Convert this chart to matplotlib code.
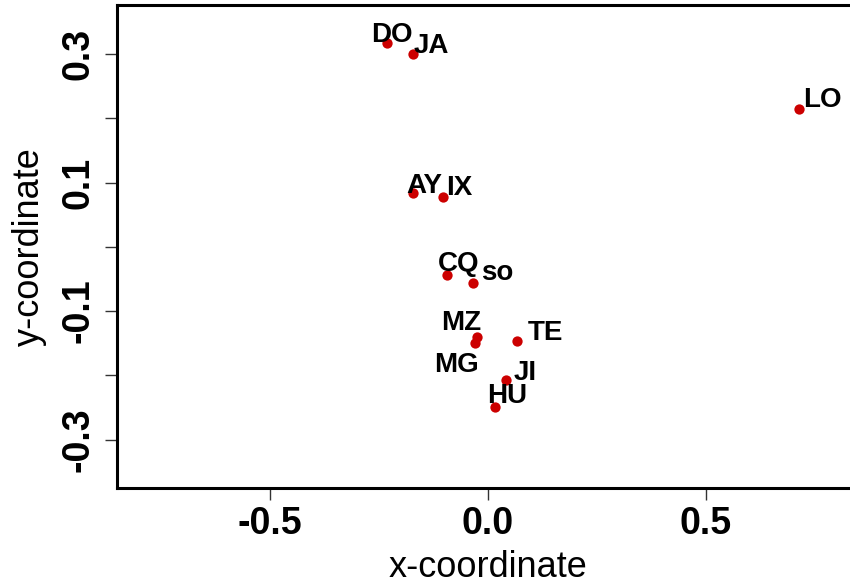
import matplotlib
matplotlib.use("Agg")
import matplotlib.pyplot as plt
from matplotlib.ticker import FixedLocator, FixedFormatter

# ---- data ----
labels = ["DO", "JA", "LO", "AY", "IX", "CQ", "so", "MZ", "MG", "TE", "JI", "HU"]
x_vals = [-0.232, -0.172, 0.715, -0.172, -0.103, -0.094, -0.034, -0.025, -0.030, 0.066, 0.041, 0.016]
y_vals = [0.317, 0.300, 0.2145, 0.084, 0.0776, -0.044, -0.056, -0.140, -0.149, -0.146, -0.207, -0.249]
x_ticks = [-0.5, 0.0, 0.5]
x_tick_labels = ["-0.5", "0.0", "0.5"]
y_ticks = [-0.3, -0.2, -0.1, 0.0, 0.1, 0.2, 0.3]
y_tick_labels = ["-0.3", "", "-0.1", "", "0.1", "", "0.3"]

# label offsets (pixels) relative to points: (dx, dy up)
label_offsets = [(5, 1), (18, 1), (23, 2), (11, 0), (16, 2), (12, 4), (24, 3),
                 (-16, 7), (-18, -29), (29, 1), (19, 0), (12, 4)]

plt.rcParams['font.family'] = ['Liberation Sans', 'DejaVu Sans']

fig = plt.figure(figsize=(8.5, 5.87), dpi=100)
ax = fig.add_axes([117/850, 1 - 488/587, (859 - 117)/850, 483/587])

ax.scatter(x_vals, y_vals, s=55, color="#CC0000", zorder=3, linewidths=0)
for lab, xv, yv, off in zip(labels, x_vals, y_vals, label_offsets):
    ax.annotate(lab, (xv, yv), xytext=off, textcoords="offset pixels",
                ha="center", va="baseline", fontsize=20, fontweight="bold",
                color="black", zorder=4)

ax.set_xlim(-0.852, 0.852)
ax.set_ylim(-0.375, 0.376)

ax.xaxis.set_major_locator(FixedLocator(x_ticks))
ax.xaxis.set_major_formatter(FixedFormatter(x_tick_labels))
ax.yaxis.set_major_locator(FixedLocator(y_ticks))
ax.yaxis.set_major_formatter(FixedFormatter(y_tick_labels))

ax.tick_params(axis="both", direction="out", length=8.6, width=1.0, color="#333333")
ax.tick_params(axis="x", labelsize=27, pad=4)
ax.tick_params(axis="y", labelsize=27, pad=6)
for t in ax.get_xticklabels():
    t.set_fontweight("bold")
for t in ax.get_yticklabels():
    t.set_fontweight("bold")
    t.set_rotation(90)
    t.set_va("center")

for sp in ax.spines.values():
    sp.set_linewidth(2.2)
    sp.set_color("black")

ax.set_xlabel("x-coordinate", fontsize=26, labelpad=6)
ax.set_ylabel("y-coordinate", fontsize=26, labelpad=10)

fig.savefig("out.png", dpi=100)
